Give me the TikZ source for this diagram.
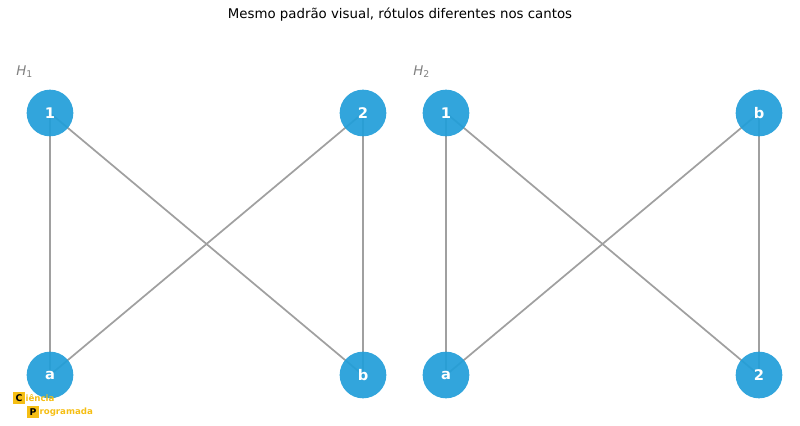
\documentclass[tikz,border=0pt]{standalone}
\usepackage{fontspec}
\setmainfont{DejaVu Sans}
\usetikzlibrary{backgrounds}
\definecolor{nodeblue}{RGB}{34,158,217}
\definecolor{edgegray}{RGB}{160,160,160}
\definecolor{logoyellow}{RGB}{245,190,20}
\begin{document}
\begin{tikzpicture}[x=0.75pt,y=0.75pt,yscale=-1,
  vertex/.style={circle,fill=nodeblue,fill opacity=0.93,text opacity=1,minimum size=35pt,inner sep=0pt,text=white,font=\bfseries\fontsize{11}{13}\selectfont},
  edge/.style={draw=edgegray,line width=1.3pt},
  glabel/.style={anchor=south west,inner sep=0pt,text=gray,font=\fontsize{10}{12}\selectfont},
  logobox/.style={fill=logoyellow,minimum size=9pt,inner sep=0pt,font=\bfseries\fontsize{7}{8}\selectfont}]
\useasboundingbox (0,0) rectangle (800,425);

\node[font=\fontsize{10}{12}\selectfont] (title) at (400,15) {Mesmo padrão visual, rótulos diferentes nos cantos};

% H1
\node[glabel] (lab1) at (16,78) {\textit{H}\textsubscript{1}};
\node[vertex] (p1) at (50,113) {1};
\node[vertex] (p2) at (363,113) {2};
\node[vertex] (pa) at (50,375) {a};
\node[vertex] (pb) at (363,375) {b};

% H2
\node[glabel] (lab2) at (413,78) {\textit{H}\textsubscript{2}};
\node[vertex] (q1) at (446,113) {1};
\node[vertex] (qb) at (759,113) {b};
\node[vertex] (qa) at (446,375) {a};
\node[vertex] (q2) at (759,375) {2};

\begin{pgfonlayer}{background}
\draw[edge] (p1.center) -- (pa.center);
\draw[edge] (p1.center) -- (pb.center);
\draw[edge] (p2.center) -- (pa.center);
\draw[edge] (p2.center) -- (pb.center);
\draw[edge] (q1.center) -- (qa.center);
\draw[edge] (q1.center) -- (q2.center);
\draw[edge] (qb.center) -- (qa.center);
\draw[edge] (qb.center) -- (q2.center);
\end{pgfonlayer}

% logo
\node[logobox] (lc) at (19,398) {C};
\node[anchor=west,inner sep=0pt,text=logoyellow,font=\bfseries\fontsize{6.5}{7}\selectfont] (lct) at (lc.east) {iência};
\node[logobox] (lp) at (33,412) {P};
\node[anchor=west,inner sep=0pt,text=logoyellow,font=\bfseries\fontsize{6.5}{7}\selectfont] (lpt) at (lp.east) {rogramada};
\end{tikzpicture}
\end{document}
